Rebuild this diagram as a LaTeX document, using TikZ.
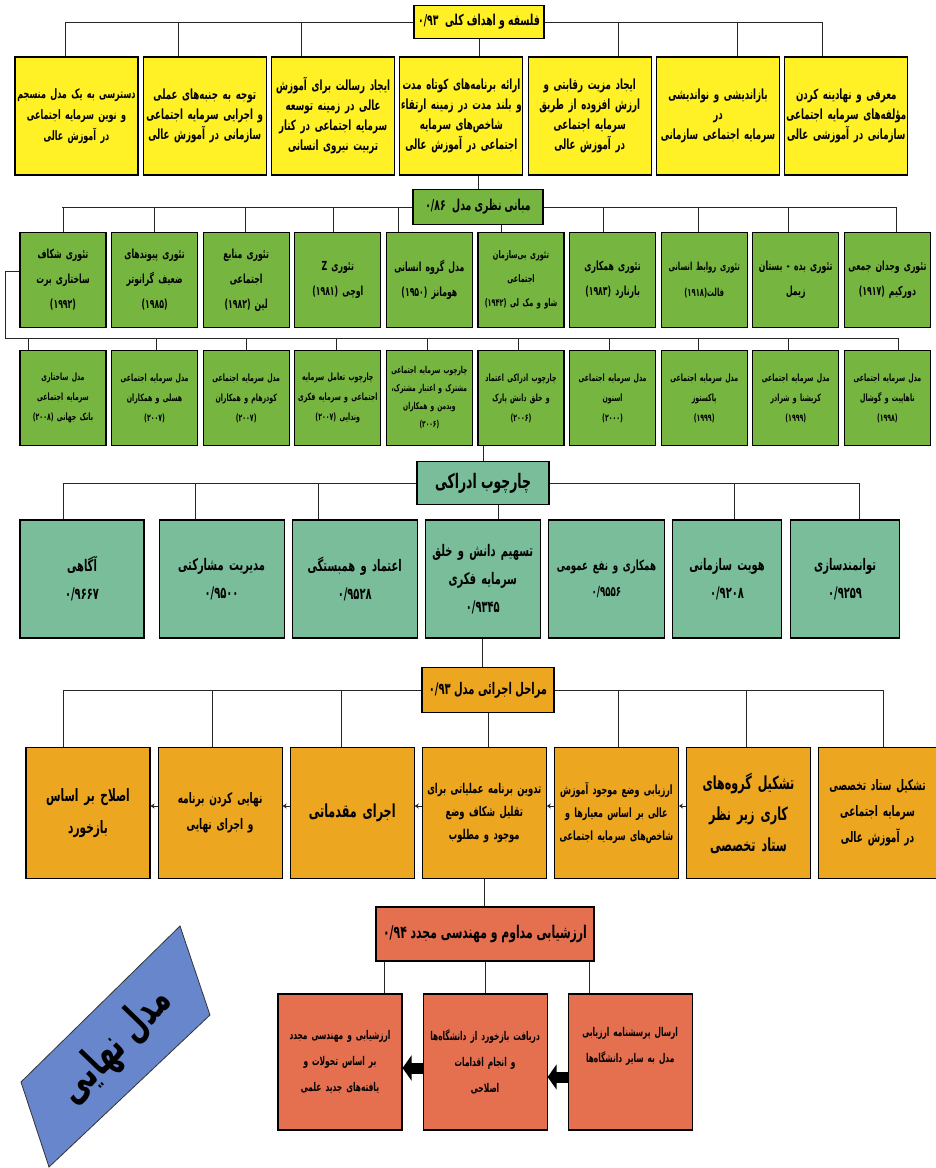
\documentclass[tikz,border=0pt]{standalone}
\usepackage{fontspec}
\newfontfamily\fa[Script=Arabic,FakeStretch=0.62]{DejaVu Sans}
\TeXXeTstate=1
\usetikzlibrary{positioning,arrows.meta}
\definecolor{ylw}{RGB}{255,241,38}
\definecolor{grn}{RGB}{118,182,64}
\definecolor{tel}{RGB}{122,189,155}
\definecolor{org}{RGB}{236,166,32}
\definecolor{rd}{RGB}{228,112,80}
\definecolor{blu}{RGB}{104,134,204}
\newcommand\fline[1]{\beginR#1\endR}
\newcommand\fsz[2]{\fa\bfseries\fontsize{#1}{#2}\selectfont}
\tikzset{part box/.style={draw,line width=1.1pt,align=center,inner sep=1pt,fill=#1},
  head box/.style={draw,line width=1.4pt,align=center,inner xsep=4pt,inner ysep=2pt,fill=#1,font=\fsz{15}{17}},
  goal box/.style={part box=ylw,text width=121pt,minimum height=118pt,font=\fsz{14}{20}},
  theory box/.style={part box=grn,text width=84pt,minimum height=95pt,font=\fsz{12.5}{25}},
  model box/.style={part box=grn,text width=84pt,minimum height=95pt,font=\fsz{10}{20}},
  factor box/.style={part box=tel,minimum height=118pt,font=\fsz{16}{28}},
  phase box/.style={part box=org,text width=122pt,minimum height=131pt,font=\fsz{14}{22}},
  review box/.style={part box=rd,text width=122pt,minimum height=136pt,font=\fsz{12}{26}},
  link/.style={line width=1pt,draw=black!85},
  flow arrow/.style={link,-{Stealth[length=4pt,width=5pt]}},
  fat arrow/.style={line width=11pt,-{Triangle[length=9pt,width=25pt]}}}

\begin{document}
\begin{tikzpicture}[x=1pt,y=-1pt]
\useasboundingbox (0,0) rectangle (936,1168);
\fill[white] (0,0) rectangle (936,1168);

% goals
\node[head box=ylw,minimum width=127pt,minimum height=33pt] (goals) at (479,22) {\fline{فلسفه و اهداف کلی\ \ ۰/۹۳}};
\node[goal box,font=\fsz{13}{21}] (y1) at (76.5,116) {\fline{دسترسی به یک مدل منسجم}\\\fline{و نوین سرمایه اجتماعی}\\\fline{در آموزش عالی}};
\node[goal box,right=4.2pt of y1] (y2) {\fline{توجه به جنبه‌های عملی}\\\fline{و اجرایی سرمایه اجتماعی}\\\fline{سازمانی در آموزش عالی}};
\node[goal box,right=4.2pt of y2] (y3) {\fline{ایجاد رسالت برای آموزش}\\\fline{عالی در زمینه توسعه}\\\fline{سرمایه اجتماعی در کنار}\\\fline{تربیت نیروی انسانی}};
\node[goal box,right=4.2pt of y3] (y4) {\fline{ارائه برنامه‌های کوتاه مدت}\\\fline{و بلند مدت در زمینه ارتقاء}\\\fline{شاخص‌های سرمایه}\\\fline{اجتماعی در آموزش عالی}};
\node[goal box,right=4.2pt of y4] (y5) {\fline{ایجاد مزیت رقابتی و}\\\fline{ارزش افزوده از طریق}\\\fline{سرمایه اجتماعی}\\\fline{در آموزش عالی}};
\node[goal box,right=4.2pt of y5] (y6) {\fline{بازاندیشی و نواندیشی}\\\fline{در}\\\fline{سرمایه اجتماعی سازمانی}};
\node[goal box,right=4.2pt of y6] (y7) {\fline{معرفی و نهادینه کردن}\\\fline{مؤلفه‌های سرمایه اجتماعی}\\\fline{سازمانی در آموزشی عالی}};
\draw[link] (65,22) -- (goals.west) (goals.east) -- (822,22);
\foreach \n/\x in {y1/65,y2/178,y3/301,y5/618,y6/737,y7/822}
  \draw[link] (\x,22) -- (\n.north -| \x,22);
\draw[link] (goals.south) -- (goals.south |- y4.north);

% theories
\node[head box=grn,minimum width=130pt,minimum height=35pt] (basis) at (478,207) {\fline{مبانی نظری مدل\ \ ۰/۸۶}};
\draw[link] (y4.south -| basis.north) -- (basis.north);
\node[theory box] (g1) at (63,280) {\fline{تئوری شکاف}\\\fline{ساختاری برت}\\\fline{(۱۹۹۲)}};
\node[theory box,right=4.5pt of g1] (g2) {\fline{تئوری پیوندهای}\\\fline{ضعیف گرانوتر}\\\fline{(۱۹۸۵)}};
\node[theory box,right=4.5pt of g2] (g3) {\fline{تئوری منابع}\\\fline{اجتماعی}\\\fline{لین (۱۹۸۲)}};
\node[theory box,right=4.5pt of g3] (g4) {\fline{تئوری Z}\\\fline{اوچی (۱۹۸۱)}};
\node[theory box,right=4.5pt of g4] (g5) {\fline{مدل گروه انسانی}\\\fline{هومانز (۱۹۵۰)}};
\node[theory box,right=4.5pt of g5,font=\fsz{10.5}{24}] (g6) {\fline{تئوری بی‌سازمان}\\\fline{اجتماعی}\\\fline{شاو و مک لی (۱۹۴۲)}};
\node[theory box,right=4.5pt of g6] (g7) {\fline{تئوری همکاری}\\\fline{بارنارد (۱۹۸۳)}};
\node[theory box,right=4.5pt of g7,font=\fsz{11}{26}] (g8) {\fline{تئوری روابط انسانی}\\\fline{فالت(۱۹۱۸)}};
\node[theory box,right=4.5pt of g8] (g9) {\fline{تئوری بده - بستان}\\\fline{زیمل}};
\node[theory box,right=4.5pt of g9] (g10) {\fline{تئوری وجدان جمعی}\\\fline{دورکیم (۱۹۱۷)}};
\draw[link] (62,207) -- (basis.west) (basis.east) -- (896,207);
\foreach \n/\x in {g1/63,g2/154,g3/245,g4/333,g5/398,g7/603,g8/698,g9/788,g10/896}
  \draw[link] (\x,207) -- (\n.north -| \x,207);
\draw[link] ([xshift=23pt]basis.south) -- ([xshift=23pt]basis.south |- g6.north);

% models
\node[model box] (h1) at (63,398) {\fline{مدل ساختاری}\\\fline{سرمایه اجتماعی}\\\fline{بانک جهانی (۲۰۰۸)}};
\node[model box,right=4.5pt of h1] (h2) {\fline{مدل سرمایه اجتماعی}\\\fline{هسلی و همکاران}\\\fline{(۲۰۰۷)}};
\node[model box,right=4.5pt of h2] (h3) {\fline{مدل سرمایه اجتماعی}\\\fline{کودرهام و همکاران}\\\fline{(۲۰۰۷)}};
\node[model box,right=4.5pt of h3] (h4) {\fline{چارچوب تعامل سرمایه}\\\fline{اجتماعی و سرمایه فکری}\\\fline{وندایی (۲۰۰۷)}};
\node[model box,right=4.5pt of h4,font=\fsz{9.5}{18}] (h5) {\fline{چارچوب سرمایه اجتماعی}\\\fline{مشترک و اعتبار مشترک،}\\\fline{ویدمن و همکاران}\\\fline{(۲۰۰۶)}};
\node[model box,right=4.5pt of h5] (h6) {\fline{چارچوب ادراکی اعتماد}\\\fline{و خلق دانش پارک}\\\fline{(۲۰۰۶)}};
\node[model box,right=4.5pt of h6] (h7) {\fline{مدل سرمایه اجتماعی}\\\fline{اسنون}\\\fline{(۲۰۰۰)}};
\node[model box,right=4.5pt of h7] (h8) {\fline{مدل سرمایه اجتماعی}\\\fline{پاکستوز}\\\fline{(۱۹۹۹)}};
\node[model box,right=4.5pt of h8] (h9) {\fline{مدل سرمایه اجتماعی}\\\fline{کریشنا و شرادر}\\\fline{(۱۹۹۹)}};
\node[model box,right=4.5pt of h9] (h10) {\fline{مدل سرمایه اجتماعی}\\\fline{ناهاپیت و گوشال}\\\fline{(۱۹۹۸)}};
\draw[link] ([yshift=9pt]g1.west) -| (5,338) -- (898,338);
\foreach \n/\x in {h1/28,h2/156,h3/246,h4/336,h5/427,h6/518,h7/609,h8/698,h9/788,h10/898}
  \draw[link] (\x,338) -- (\n.north -| \x,338);

% perceptual framework
\node[head box=tel,minimum width=132pt,minimum height=43pt,font=\fsz{20}{22}] (frame) at (483,483) {\fline{چارچوب ادراکی}};
\draw[link] (frame.north |- h6.south) -- (frame.north);
\node[factor box,text width=122pt] (t1) at (82,579) {\fline{آگاهی}\\\fline{۰/۹۶۶۷}};
\node[factor box,text width=123pt,right=14pt of t1] (t2) {\fline{مدیریت مشارکتی}\\\fline{۰/۹۵۰۰}};
\node[factor box,text width=123pt,right=7pt of t2] (t3) {\fline{اعتماد و همبستگی}\\\fline{۰/۹۵۲۸}};
\node[factor box,text width=113pt,right=7pt of t3] (t4) {\fline{تسهیم دانش و خلق}\\\fline{سرمایه فکری}\\\fline{۰/۹۳۴۵}};
\node[factor box,text width=114pt,right=7pt of t4,font=\fsz{14}{26}] (t5) {\fline{همکاری و نفع عمومی}\\\fline{۰/۹۵۵۶}};
\node[factor box,text width=107pt,right=7pt of t5] (t6) {\fline{هویت سازمانی}\\\fline{۰/۹۲۰۸}};
\node[factor box,text width=107pt,right=8pt of t6] (t7) {\fline{توانمندسازی}\\\fline{۰/۹۲۵۹}};
\draw[link] (63,483) -- (frame.west) (frame.east) -- (859,483);
\foreach \n/\x in {t1/63,t2/195,t3/318,t6/734,t7/859}
  \draw[link] (\x,483) -- (\n.north -| \x,483);
\draw[link] ([xshift=15pt]frame.south) -- ([xshift=15pt]frame.south |- t4.north);

% phases
\node[head box=org,minimum width=132pt,minimum height=45pt,font=\fsz{16}{18}] (phases) at (488,690) {\fline{مراحل اجرائی مدل ۰/۹۳}};
\draw[link] (t4.south) -- (t4.south |- phases.north);
\node[phase box,font=\fsz{17}{32}] (o1) at (88,813) {\fline{اصلاح بر اساس}\\\fline{بازخورد}};
\node[phase box,right=7pt of o1,font=\fsz{14.5}{26}] (o2) {\fline{نهایی کردن برنامه}\\\fline{و اجرای نهایی}};
\node[phase box,right=7pt of o2,font=\fsz{18}{20}] (o3) {\fline{اجرای مقدماتی}};
\node[phase box,right=7pt of o3,font=\fsz{13.5}{23}] (o4) {\fline{تدوین برنامه عملیاتی برای}\\\fline{تقلیل شکاف وضع}\\\fline{موجود و مطلوب}};
\node[phase box,right=7pt of o4,font=\fsz{12.8}{23}] (o5) {\fline{ارزیابی وضع موجود آموزش}\\\fline{عالی بر اساس معیارها و}\\\fline{شاخص‌های سرمایه اجتماعی}};
\node[phase box,right=7pt of o5,font=\fsz{18}{31}] (o6) {\fline{تشکیل گروه‌های}\\\fline{کاری زیر نظر}\\\fline{ستاد تخصصی}};
\node[phase box,right=7pt of o6,text width=116pt,font=\fsz{14.5}{26}] (o7) {\fline{تشکیل ستاد تخصصی}\\\fline{سرمایه اجتماعی}\\\fline{در آموزش عالی}};
\draw[link] (63,690) -- (phases.west) (phases.east) -- (883,690);
\foreach \n/\x in {o1/63,o2/212,o3/341,o5/618,o6/746,o7/883}
  \draw[link] (\x,690) -- (\n.north -| \x,690);
\draw[link] (phases.south) -- (phases.south |- o4.north);
\foreach \a/\b in {o2/o1,o3/o2,o4/o3,o5/o4,o6/o5}
  \draw[flow arrow] ([yshift=7pt]\a.west) -- ([yshift=7pt]\b.east);

% review
\node[head box=rd,minimum width=218pt,minimum height=54pt,font=\fsz{17.5}{19}] (review) at (485,934) {\fline{ارزشیابی مداوم و مهندسی مجدد ۰/۹۴}};
\draw[link] (o4.south) -- (o4.south |- review.north);
\node[review box] (r1) at (340,1062) {\fline{ارزشیابی و مهندسی مجدد}\\\fline{بر اساس تحولات و}\\\fline{یافته‌های جدید علمی}};
\node[review box,right=20pt of r1] (r2) {\fline{دریافت بازخورد از دانشگاه‌ها}\\\fline{و انجام اقدامات}\\\fline{اصلاحی}};
\node[review box,right=20pt of r2] (r3) {\fline{ارسال پرسشنامه ارزیابی}\\\fline{مدل به سایر دانشگاه‌ها}\\\strut};
\draw[link] ([xshift=9pt]review.south west) -- ([xshift=9pt]review.south west |- r1.north);
\draw[link] (r2.north) -- (r2.north |- review.south);
\draw[link] ([xshift=-5pt]review.south east) -- ([xshift=-5pt]review.south east |- r3.north);
\draw[fat arrow] ([yshift=-15pt]r3.west) -- ([yshift=-15pt]r2.east);
\draw[fat arrow] ([yshift=-6pt]r2.west) -- ([yshift=-6pt]r1.east);

% final model
\filldraw[fill=blu,draw=black!80,line width=0.8pt] (21,1082) -- (180,926) -- (210,1015) -- (49,1167) -- cycle;
\node[rotate=46,font=\fsz{44}{46}] (final) at (116,1046) {\fline{مدل نهایی}};
\end{tikzpicture}
\end{document}
